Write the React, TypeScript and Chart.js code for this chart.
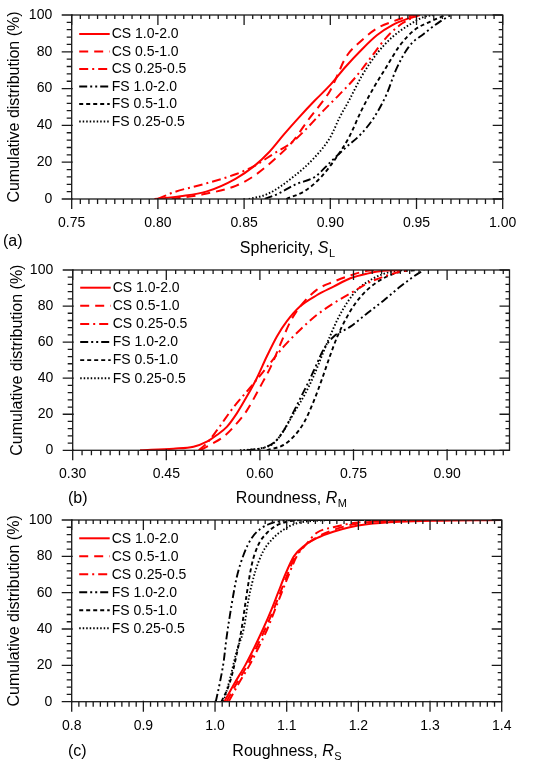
import React, { useEffect, useRef } from "react";
import { Chart, registerables } from "chart.js";

Chart.register(...registerables);

const FONT = '"Liberation Sans", Arial, Helvetica, sans-serif';

// ---------- shared series meta ----------
const SERIES_LABELS = ["CS 1.0-2.0", "CS 0.5-1.0", "CS 0.25-0.5", "FS 1.0-2.0", "FS 0.5-1.0", "FS 0.25-0.5"];
const SERIES_COLORS = ["#ff0000", "#ff0000", "#ff0000", "#000000", "#000000", "#000000"];
const SERIES_DASHES: number[][] = [[], [9, 6], [9, 4, 2, 4], [8, 3, 2, 3, 2, 3], [4, 3], [1.5, 2]];
const Y_TICKS = [0, 20, 40, 60, 80, 100];

// ---------- panel (a) Sphericity ----------
const A_X_TICKS = [0.75, 0.8, 0.85, 0.9, 0.95, 1.0];
const A_CS12_X = [0.798, 0.813, 0.828, 0.845, 0.856, 0.864, 0.873, 0.882, 0.891, 0.9, 0.909, 0.918, 0.927, 0.936, 0.945, 0.952];
const A_CS12_Y = [0, 1.5, 4, 11, 18, 25, 35, 44.5, 53.5, 62, 72, 81, 89, 94.5, 98, 100];
const A_CS051_X = [0.808, 0.827, 0.8455, 0.856, 0.869, 0.878, 0.887, 0.896, 0.9, 0.904, 0.909, 0.918, 0.927, 0.936, 0.947, 0.951];
const A_CS051_Y = [0, 2.7, 7.3, 12.7, 22.7, 31, 42.7, 53.6, 59, 67, 77, 86, 92.7, 96.4, 99.6, 100];
const A_CS0255_X = [0.8, 0.809, 0.827, 0.8455, 0.856, 0.867, 0.878, 0.887, 0.896, 0.9055, 0.9145, 0.9236, 0.9327, 0.9418, 0.951];
const A_CS0255_Y = [0, 3.6, 8.2, 13.6, 18, 24.5, 31, 39, 48, 57, 66, 77, 88, 95.5, 100];
const A_FS12_X = [0.862, 0.87, 0.88, 0.891, 0.9, 0.909, 0.918, 0.9255, 0.9327, 0.938, 0.9455, 0.9545, 0.9636, 0.97];
const A_FS12_Y = [0, 3, 8, 12, 20, 28, 35.5, 44.5, 57, 70, 82.7, 90, 96.4, 100];
const A_FS051_X = [0.8745, 0.8855, 0.8945, 0.9036, 0.9109, 0.918, 0.9255, 0.9327, 0.94, 0.949, 0.958, 0.967];
const A_FS051_Y = [0, 4.5, 11.8, 22.7, 33.6, 48, 61, 72, 83, 92, 96.4, 100];
const A_FS0255_X = [0.8527, 0.8636, 0.8782, 0.891, 0.9, 0.9055, 0.9109, 0.918, 0.927, 0.936, 0.9455, 0.9545, 0.96];
const A_FS0255_Y = [0, 2.7, 11.8, 22.7, 33.6, 44.5, 53.6, 66.4, 79, 88, 94.5, 99, 100];

// ---------- panel (b) Roundness ----------
const B_X_TICKS = [0.3, 0.45, 0.6, 0.75, 0.9];
const B_CS12_X = [0.408, 0.4615, 0.4936, 0.515, 0.531, 0.547, 0.563, 0.579, 0.595, 0.611, 0.627, 0.643, 0.665, 0.691, 0.718, 0.745, 0.772, 0.798, 0.825];
const B_CS12_Y = [0, 0.9, 2, 4.8, 8.5, 13, 20.5, 29.8, 40, 52, 63, 71.5, 80, 86, 90.8, 95.4, 98, 99.6, 100];
const B_CS051_X = [0.504, 0.52, 0.542, 0.558, 0.579, 0.6, 0.617, 0.633, 0.649, 0.665, 0.691, 0.718, 0.745, 0.772, 0.788];
const B_CS051_Y = [0, 3, 7.6, 13, 22, 35, 46, 59, 71.5, 80, 89, 93.5, 97, 99.6, 100];
const B_CS0255_X = [0.502, 0.515, 0.531, 0.558, 0.585, 0.611, 0.638, 0.665, 0.691, 0.718, 0.745, 0.772, 0.798, 0.825, 0.841];
const B_CS0255_Y = [0, 3.9, 11, 24, 35, 46, 57.5, 67, 75, 81.5, 87, 92.6, 96.3, 99, 100];
const B_FS12_X = [0.579, 0.611, 0.627, 0.64, 0.652, 0.665, 0.678, 0.69, 0.702, 0.718, 0.745, 0.772, 0.798, 0.825, 0.846, 0.863];
const B_FS12_Y = [0, 2, 5.7, 12, 20, 29, 38, 47, 56, 63, 68.6, 76, 83, 90.8, 96.3, 100];
const B_FS051_X = [0.611, 0.638, 0.654, 0.67, 0.686, 0.7, 0.712, 0.724, 0.738, 0.752, 0.772, 0.798, 0.825, 0.852];
const B_FS051_Y = [0, 3, 7.6, 15, 27, 40, 52, 63, 73, 81, 89, 95.4, 99, 100];
const B_FS0255_X = [0.568, 0.601, 0.622, 0.64, 0.655, 0.672, 0.686, 0.7, 0.712, 0.725, 0.74, 0.756, 0.782, 0.809, 0.836];
const B_FS0255_Y = [0, 1.1, 3.9, 12, 21, 31, 41, 53, 63, 73, 82, 89, 95.4, 99, 100];

// ---------- panel (c) Roughness ----------
const C_X_TICKS = [0.8, 0.9, 1.0, 1.1, 1.2, 1.3, 1.4];
const C_CS12_X = [1.013, 1.027, 1.042, 1.055, 1.067, 1.078, 1.088, 1.098, 1.11, 1.125, 1.142, 1.165, 1.188, 1.212, 1.258, 1.305, 1.4];
const C_CS12_Y = [0, 10, 20, 30, 40, 50, 60, 70, 80, 86, 90, 93.5, 96, 97.6, 99, 99.6, 100];
const C_CS051_X = [1.016, 1.03, 1.045, 1.058, 1.07, 1.081, 1.091, 1.101, 1.112, 1.126, 1.142, 1.165, 1.188, 1.212, 1.258, 1.305, 1.4];
const C_CS051_Y = [0, 10, 20, 30, 40, 50, 60, 70, 80, 86, 90.5, 94.5, 97.2, 98.7, 99.6, 100, 100];
const C_CS0255_X = [1.019, 1.033, 1.048, 1.061, 1.073, 1.083, 1.093, 1.103, 1.114, 1.128, 1.142, 1.165, 1.188, 1.212, 1.258, 1.3, 1.4];
const C_CS0255_Y = [0, 10, 20, 30, 40, 50, 60, 70, 80, 87, 93, 96, 98, 99, 99.6, 100, 100];
const C_FS12_X = [1.001, 1.007, 1.012, 1.016, 1.023, 1.03, 1.04, 1.051, 1.063, 1.077, 1.095, 1.119, 1.4];
const C_FS12_Y = [0, 11, 22, 35, 53, 68, 81, 90, 95, 98, 99.6, 100, 100];
const C_FS051_X = [1.009, 1.021, 1.03, 1.037, 1.044, 1.051, 1.06, 1.072, 1.086, 1.105, 1.128, 1.4];
const C_FS051_Y = [0, 11, 25.7, 40, 58.7, 75, 86, 92.7, 97, 99.4, 100, 100];
const C_FS0255_X = [1.012, 1.021, 1.03, 1.04, 1.047, 1.056, 1.067, 1.081, 1.095, 1.114, 1.142, 1.165, 1.4];
const C_FS0255_Y = [0, 12.8, 27.5, 40, 56.9, 71.5, 82.6, 89.9, 94.5, 98.2, 99.6, 100, 100];

type Spec = {
  top: number;
  height: number;
  plot: { left: number; right: number; top: number; bottom: number };
  xMin: number;
  xMax: number;
  xTicks: number[];
  xMinor: number;
  decimals: number;
  titleMain: string;
  titleSym: string;
  titleSub: string;
  panelLabel: string;
  labelX: number;
  labelBase: number;
  titleBase: number;
  yTitleX: number;
  legendTop: number;
  legendStep: number;
  series: [number[], number[]][];
};

const PANELS: Spec[] = [
  {
    top: 0, height: 262,
    plot: { left: 71.7, right: 502.7, top: 15, bottom: 199 },
    xMin: 0.75, xMax: 1.0, xTicks: A_X_TICKS, xMinor: 0.005, decimals: 2,
    titleMain: "Sphericity, ", titleSym: "S", titleSub: "L",
    panelLabel: "(a)", labelX: 3, labelBase: 246, titleBase: 252.5, yTitleX: 15,
    legendTop: 19, legendStep: 17.5,
    series: [[A_CS12_X, A_CS12_Y], [A_CS051_X, A_CS051_Y], [A_CS0255_X, A_CS0255_Y], [A_FS12_X, A_FS12_Y], [A_FS051_X, A_FS051_Y], [A_FS0255_X, A_FS0255_Y]],
  },
  {
    top: 262, height: 248,
    plot: { left: 72.7, right: 509.5, top: 8, bottom: 188.3 },
    xMin: 0.3, xMax: 1.0, xTicks: B_X_TICKS, xMinor: 0.015, decimals: 2,
    titleMain: "Roundness, ", titleSym: "R", titleSub: "M",
    panelLabel: "(b)", labelX: 68, labelBase: 240.5, titleBase: 240.7, yTitleX: 17.5,
    legendTop: 17.7, legendStep: 18.1,
    series: [[B_CS12_X, B_CS12_Y], [B_CS051_X, B_CS051_Y], [B_CS0255_X, B_CS0255_Y], [B_FS12_X, B_FS12_Y], [B_FS051_X, B_FS051_Y], [B_FS0255_X, B_FS0255_Y]],
  },
  {
    top: 510, height: 256,
    plot: { left: 71.7, right: 501.7, top: 10, bottom: 191.7 },
    xMin: 0.8, xMax: 1.4, xTicks: C_X_TICKS, xMinor: 0.01, decimals: 1,
    titleMain: "Roughness, ", titleSym: "R", titleSub: "S",
    panelLabel: "(c)", labelX: 68, labelBase: 246, titleBase: 245.5, yTitleX: 15,
    legendTop: 18.3, legendStep: 18,
    series: [[C_CS12_X, C_CS12_Y], [C_CS051_X, C_CS051_Y], [C_CS0255_X, C_CS0255_Y], [C_FS12_X, C_FS12_Y], [C_FS051_X, C_FS051_Y], [C_FS0255_X, C_FS0255_Y]],
  },
];

const W = 550;

function makeDecor(spec: Spec) {
  return {
    id: "decor",
    afterDraw(chart: any) {
      const ctx = chart.ctx as CanvasRenderingContext2D;
      const { left, right, top, bottom } = chart.chartArea;
      const xs = chart.scales.x;
      const ys = chart.scales.y;
      ctx.save();
      ctx.setLineDash([]);
      ctx.strokeStyle = "#1a1a1a";
      ctx.lineWidth = 1.3;
      ctx.strokeRect(left, top, right - left, bottom - top);
      ctx.beginPath();
      const nx = Math.round((spec.xMax - spec.xMin) / spec.xMinor);
      for (let i = 0; i <= nx; i++) {
        const px = xs.getPixelForValue(spec.xMin + i * spec.xMinor);
        if (px > right + 0.5) continue;
        ctx.moveTo(px, bottom); ctx.lineTo(px, bottom + 5);
        ctx.moveTo(px, top); ctx.lineTo(px, top + 4);
      }
      for (const v of spec.xTicks) {
        const px = xs.getPixelForValue(v);
        ctx.moveTo(px, bottom - 1); ctx.lineTo(px, bottom + 10);
        ctx.moveTo(px, top); ctx.lineTo(px, top + 10);
      }
      for (let v = 0; v <= 100; v += 4) {
        const py = ys.getPixelForValue(v);
        ctx.moveTo(left, py); ctx.lineTo(left - 5, py);
        ctx.moveTo(right, py); ctx.lineTo(right - 4, py);
      }
      for (const v of Y_TICKS) {
        const py = ys.getPixelForValue(v);
        ctx.moveTo(left + 1, py); ctx.lineTo(left - 10, py);
        ctx.moveTo(right, py); ctx.lineTo(right - 10, py);
      }
      ctx.stroke();

      // legend
      ctx.font = `14px ${FONT}`;
      ctx.textBaseline = "middle";
      ctx.textAlign = "left";
      SERIES_LABELS.forEach((lab, i) => {
        const y = top + spec.legendTop + i * spec.legendStep;
        ctx.beginPath();
        ctx.strokeStyle = SERIES_COLORS[i];
        ctx.lineWidth = i < 3 ? 2 : 1.9;
        ctx.setLineDash(SERIES_DASHES[i]);
        ctx.moveTo(left + 7.5, y);
        ctx.lineTo(left + 38, y);
        ctx.stroke();
        ctx.setLineDash([]);
        ctx.fillStyle = "#000";
        ctx.fillText(lab, left + 40, y + 0.5);
      });

      // y title
      ctx.save();
      ctx.translate(spec.yTitleX, (top + bottom) / 2);
      ctx.rotate(-Math.PI / 2);
      ctx.font = `16px ${FONT}`;
      ctx.textAlign = "center";
      ctx.textBaseline = "middle";
      ctx.fillStyle = "#000";
      ctx.fillText("Cumulative distribution (%)", 0, 0);
      ctx.restore();

      // x title with italic symbol and subscript
      ctx.textBaseline = "alphabetic";
      ctx.textAlign = "left";
      ctx.fillStyle = "#000";
      const fMain = `16px ${FONT}`;
      const fSym = `italic 16px ${FONT}`;
      const fSub = `11px ${FONT}`;
      ctx.font = fMain; const w1 = ctx.measureText(spec.titleMain).width;
      ctx.font = fSym; const w2 = ctx.measureText(spec.titleSym).width;
      ctx.font = fSub; const w3 = ctx.measureText(spec.titleSub).width;
      let x0 = (left + right) / 2 - (w1 + w2 + w3) / 2;
      ctx.font = fMain; ctx.fillText(spec.titleMain, x0, spec.titleBase);
      x0 += w1;
      ctx.font = fSym; ctx.fillText(spec.titleSym, x0, spec.titleBase);
      x0 += w2 + 0.5;
      ctx.font = fSub; ctx.fillText(spec.titleSub, x0, spec.titleBase + 4);

      // panel label
      ctx.font = fMain;
      ctx.fillText(spec.panelLabel, spec.labelX, spec.labelBase);
      ctx.restore();
    },
  };
}

function Panel({ spec }: { spec: Spec }) {
  const ref = useRef<HTMLCanvasElement | null>(null);
  useEffect(() => {
    if (!ref.current) return;
    const p = spec.plot;
    const datasets = spec.series.map(([xs, ys], i) => ({
      label: SERIES_LABELS[i],
      data: xs.map((x, k) => ({ x, y: ys[k] })),
      borderColor: SERIES_COLORS[i],
      backgroundColor: SERIES_COLORS[i],
      borderDash: SERIES_DASHES[i],
      borderWidth: i < 3 ? 2 : 1.9,
      pointRadius: 0,
      fill: false,
      cubicInterpolationMode: "monotone" as const,
    }));
    const chart = new Chart(ref.current, {
      type: "line",
      data: { datasets },
      options: {
        animation: false,
        responsive: false,
        events: [],
        layout: { padding: { top: p.top, right: W - p.right, left: 0, bottom: 0 } },
        plugins: { legend: { display: false }, tooltip: { enabled: false } },
        scales: {
          x: {
            type: "linear",
            min: spec.xMin,
            max: spec.xMax,
            grid: { display: false, drawTicks: false },
            border: { display: false },
            afterBuildTicks: (axis: any) => {
              axis.ticks = spec.xTicks.map((v) => ({ value: v }));
            },
            afterFit: (axis: any) => {
              axis.height = spec.height - p.bottom;
              axis.paddingLeft = 0;
              axis.paddingRight = 0;
            },
            ticks: {
              autoSkip: false,
              maxRotation: 0,
              padding: 15.6,
              color: "#000",
              font: { family: FONT, size: 14 },
              callback: (v: any) => Number(v).toFixed(spec.decimals),
            },
          },
          y: {
            type: "linear",
            min: 0,
            max: 100,
            grid: { display: false, drawTicks: false },
            border: { display: false },
            afterBuildTicks: (axis: any) => {
              axis.ticks = Y_TICKS.map((v) => ({ value: v }));
            },
            afterFit: (axis: any) => {
              axis.width = p.left;
              axis.paddingTop = 0;
              axis.paddingBottom = 0;
            },
            ticks: {
              padding: 19.5,
              color: "#000",
              font: { family: FONT, size: 14 },
              callback: (v: any) => String(v),
            },
          },
        },
      },
      plugins: [makeDecor(spec)],
    } as any);
    return () => chart.destroy();
  }, [spec]);
  return (
    <canvas
      ref={ref}
      width={W}
      height={spec.height}
      style={{ position: "absolute", left: 0, top: spec.top, width: W, height: spec.height }}
    />
  );
}

export default function App() {
  return (
    <div style={{ position: "absolute", left: 0, top: 0, width: 550, height: 766, background: "#fff" }}>
      {PANELS.map((s, i) => (
        <Panel key={i} spec={s} />
      ))}
    </div>
  );
}
